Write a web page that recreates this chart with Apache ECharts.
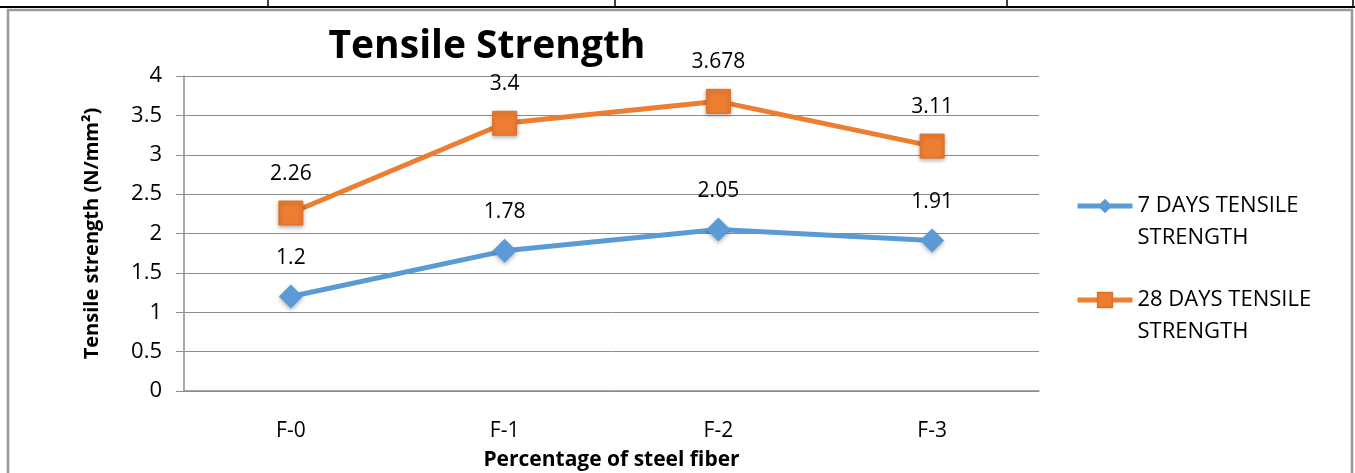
<!DOCTYPE html>
<html><head><meta charset="utf-8">
<script src="https://cdn.jsdelivr.net/npm/echarts@6/dist/echarts.min.js"></script>
<style>html,body{margin:0;padding:0;background:#fff}#c{width:1355px;height:473px}</style>
</head><body><div id="c"></div>
<script>
const categories = ['F-0', 'F-1', 'F-2', 'F-3'];
const seriesNames = ['7 DAYS TENSILE STRENGTH', '28 DAYS TENSILE STRENGTH'];
const days7 = [1.2, 1.78, 2.05, 1.91];
const days28 = [2.26, 3.4, 3.678, 3.11];
const yTicks = [0, 0.5, 1, 1.5, 2, 2.5, 3, 3.5, 4];

const font = '"Open Sans", "Noto Sans", sans-serif';
const chart = echarts.init(document.getElementById('c'), null, {renderer: 'canvas'});
chart.setOption({
  animation: false,
  textStyle: {fontFamily: font},
  title: {
    text: 'Tensile Strength', left: 482, top: 22, textAlign: 'center',
    textStyle: {fontSize: 39, fontWeight: 'bold', color: '#000', fontFamily: font}
  },
  graphic: [
    {type: 'line', shape: {x1: 0, y1: 7, x2: 1355, y2: 7}, style: {stroke: '#000', lineWidth: 2}},
    {type: 'line', shape: {x1: 268, y1: 0, x2: 268, y2: 7}, style: {stroke: '#000', lineWidth: 1.5}},
    {type: 'line', shape: {x1: 615, y1: 0, x2: 615, y2: 7}, style: {stroke: '#000', lineWidth: 1.5}},
    {type: 'line', shape: {x1: 1007, y1: 0, x2: 1007, y2: 7}, style: {stroke: '#000', lineWidth: 1.5}},
    {type: 'line', shape: {x1: 1353, y1: 0, x2: 1353, y2: 7}, style: {stroke: '#000', lineWidth: 1.5}},
    {type: 'rect', shape: {x: 8, y: 10, width: 1344, height: 470}, style: {fill: 'none', stroke: '#999', lineWidth: 2.5}}
  ],
  legend: {
    orient: 'vertical', left: 1070, top: 153, itemGap: -2,
    itemWidth: 55, itemHeight: 18, itemTextGap: 3,
    lineStyle: {width: 5},
    formatter: n => '\n' + n.replace(' TENSILE ', ' TENSILE\n'),
    textStyle: {fontSize: 22, color: '#000', lineHeight: 32, fontFamily: font},
    data: seriesNames
  },
  grid: {left: 184, right: 316, top: 76, bottom: 82, containLabel: false, outerBoundsMode: 'none'},
  xAxis: {
    type: 'category', data: categories, boundaryGap: true,
    name: 'Percentage of steel fiber', nameLocation: 'middle', nameGap: 59,
    nameTextStyle: {fontSize: 21, fontWeight: 'bold', color: '#000', fontFamily: font},
    axisLine: {lineStyle: {color: '#8c8c8c', width: 1.5}},
    axisTick: {show: false},
    axisLabel: {fontSize: 21, color: '#000', margin: 30, fontFamily: font}
  },
  yAxis: {
    type: 'value', min: 0, max: 4, interval: 0.5,
    name: 'Tensile strength (N/mm²)', nameLocation: 'middle', nameGap: 82, nameRotate: 90,
    nameTextStyle: {fontSize: 20, fontWeight: 'bold', color: '#000', fontFamily: font},
    axisLine: {show: true, lineStyle: {color: '#8c8c8c', width: 1.5}},
    axisTick: {show: true, length: 8, lineStyle: {color: '#8c8c8c'}},
    splitLine: {lineStyle: {color: '#8c8c8c', width: 1}},
    axisLabel: {fontSize: 22, color: '#000', margin: 22, fontFamily: font,
      formatter: v => yTicks.includes(v) ? String(v) : ''}
  },
  series: [
    {
      name: seriesNames[0], type: 'line', data: days7,
      symbol: 'diamond', symbolSize: 24,
      lineStyle: {color: '#5B9BD5', width: 5},
      itemStyle: {color: '#5B9BD5', shadowColor: 'rgba(0,0,0,0.3)', shadowBlur: 4, shadowOffsetY: 2},
      label: {show: true, position: 'top', distance: 16, fontSize: 21, color: '#000', fontFamily: font}
    },
    {
      name: seriesNames[1], type: 'line', data: days28,
      symbol: 'rect', symbolSize: 24,
      lineStyle: {color: '#ED7D31', width: 5},
      itemStyle: {color: '#ED7D31', borderColor: '#E0702A', borderWidth: 1, shadowColor: 'rgba(0,0,0,0.3)', shadowBlur: 4, shadowOffsetY: 2},
      label: {show: true, position: 'top', distance: 16, fontSize: 21, color: '#000', fontFamily: font}
    }
  ]
});
</script></body></html>
